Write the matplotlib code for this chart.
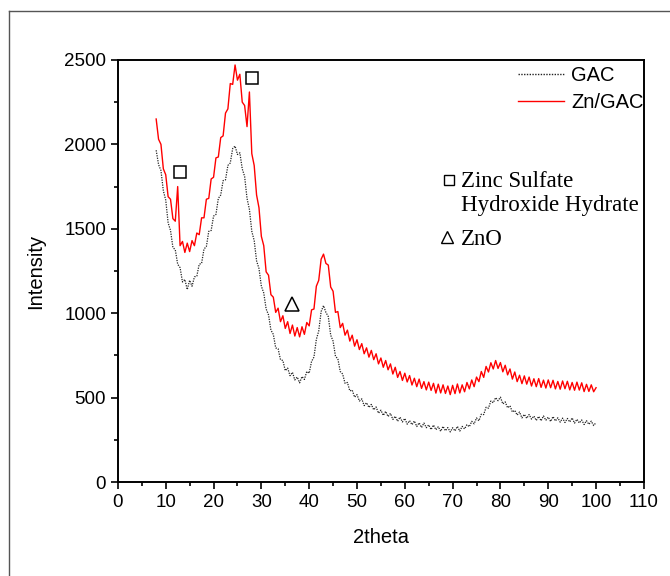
#!/usr/bin/env python3
"""XRD patterns of GAC and Zn/GAC."""

import matplotlib

matplotlib.use("Agg")

import matplotlib.pyplot as plt
import numpy as np
from matplotlib.lines import Line2D

# 2theta sampling grid, 8 to 100 in steps of 0.5
TWO_THETA = np.arange(8.0, 100.01, 0.5)

GAC = [
    1965, 1880, 1845, 1725, 1670, 1535, 1490, 1390, 1375, 1290,
    1270, 1185, 1200, 1140, 1195, 1160, 1215, 1220, 1290, 1295,
    1380, 1395, 1485, 1490, 1575, 1585, 1680, 1700, 1785, 1790,
    1875, 1890, 1975, 1990, 1940, 1950, 1855, 1810, 1680, 1615,
    1485, 1430, 1310, 1265, 1160, 1120, 1025, 990, 900, 875,
    795, 790, 725, 720, 660, 675, 630, 650, 605, 622,
    588, 625, 608, 655, 645, 715, 740, 845, 895, 1010,
    1045, 1005, 980, 870, 835, 745, 730, 655, 640, 585,
    590, 540, 545, 503, 518, 480, 493, 453, 470, 442,
    460, 428, 445, 408, 426, 395, 419, 388, 407, 371,
    390, 360, 385, 356, 377, 343, 364, 340, 362, 329,
    351, 323, 350, 322, 339, 311, 338, 310, 328, 301,
    330, 304, 323, 297, 322, 303, 330, 302, 330, 315,
    340, 328, 360, 345, 380, 363, 402, 400, 443, 438,
    480, 470, 500, 482, 503, 463, 475, 440, 452, 415,
    425, 397, 415, 380, 401, 378, 400, 373, 391, 365,
    389, 363, 392, 366, 385, 359, 388, 362, 381, 355,
    379, 353, 377, 356, 380, 349, 372, 350, 368, 341,
    364, 342, 361, 335, 353,
]

ZN_GAC = [
    2150, 2030, 2000, 1855, 1820, 1690, 1675, 1560, 1545, 1750,
    1400, 1425, 1360, 1415, 1365, 1430, 1400, 1475, 1465, 1565,
    1565, 1675, 1680, 1795, 1805, 1920, 1925, 2040, 2050, 2185,
    2210, 2360, 2355, 2470, 2380, 2415, 2250, 2230, 2105, 2310,
    1945, 1875, 1700, 1625, 1455, 1400, 1245, 1225, 1110, 1095,
    1005, 1030, 950, 985, 910, 950, 880, 930, 865, 915,
    860, 920, 875, 945, 925, 1020, 1025, 1160, 1195, 1320,
    1350, 1295, 1285, 1155, 1130, 1005, 1010, 915, 940, 870,
    900, 835, 870, 805, 843, 785, 820, 760, 795, 740,
    780, 725, 760, 700, 735, 680, 720, 665, 700, 640,
    680, 620, 655, 602, 645, 593, 631, 575, 615, 565,
    610, 555, 595, 546, 592, 543, 585, 527, 580, 528,
    576, 525, 569, 518, 573, 524, 581, 528, 576, 535,
    590, 552, 605, 565, 622, 595, 655, 620, 685, 652,
    707, 670, 720, 673, 708, 653, 692, 635, 670, 610,
    652, 595, 633, 583, 629, 580, 622, 569, 612, 565,
    613, 561, 604, 557, 605, 559, 603, 552, 596, 550,
    599, 553, 597, 546, 590, 544, 592, 545, 588, 536,
    579, 537, 576, 535, 559,
]

# phase markers (2theta, intensity)
SULFATE_X = [12.9, 28.0]
SULFATE_Y = [1835, 2395]
ZNO_X = [36.5]
ZNO_Y = [1055]

X_TICKS = list(range(0, 111, 10))
Y_TICKS = list(range(0, 2501, 500))

SANS = ["Liberation Sans", "DejaVu Sans"]
SERIF = ["Liberation Serif", "DejaVu Serif"]


def main() -> None:
    fig = plt.figure(figsize=(6.7, 5.76), dpi=100)
    ax = fig.add_axes([0.176, 0.163, 0.785, 0.733])

    ax.plot(TWO_THETA, GAC, color="#222222", lw=0.9, ls=(0, (1, 1)), label="GAC")
    ax.plot(TWO_THETA, ZN_GAC, color="#ff0000", lw=1.0, label="Zn/GAC")

    ax.plot(SULFATE_X, SULFATE_Y, ls="none", marker="s", ms=8,
            mfc="none", mec="black", mew=1.1)
    ax.plot(ZNO_X, ZNO_Y, ls="none", marker="^", ms=10,
            mfc="none", mec="black", mew=1.1)

    # phase key
    ax.plot([69.3], [1790], ls="none", marker="s", ms=7, mfc="none",
            mec="black", mew=1.0)
    ax.text(71.8, 1780, "Zinc Sulfate", family=SERIF, fontsize=16.5, va="center")
    ax.text(71.8, 1635, "Hydroxide Hydrate", family=SERIF, fontsize=16.5, va="center")
    ax.plot([68.9], [1450], ls="none", marker="^", ms=9, mfc="none",
            mec="black", mew=1.0)
    ax.text(71.8, 1435, "ZnO", family=SERIF, fontsize=16.5, va="center")

    ax.set_xlim(0, 110)
    ax.set_ylim(0, 2500)
    ax.set_xticks(X_TICKS)
    ax.set_yticks(Y_TICKS)
    ax.set_xticks(np.arange(5, 110, 10), minor=True)
    ax.set_yticks(np.arange(250, 2500, 500), minor=True)
    ax.tick_params(which="major", direction="out", length=5, width=1.2)
    ax.tick_params(which="minor", direction="out", length=3, width=1.2)
    for lab in ax.get_xticklabels() + ax.get_yticklabels():
        lab.set_family(SANS)
        lab.set_fontsize(13.5)
    for sp in ax.spines.values():
        sp.set_linewidth(1.4)

    ax.set_xlabel("2theta", family=SANS, fontsize=14.5, labelpad=12)
    ax.set_ylabel("Intensity", family=SANS, fontsize=14.5, labelpad=14)

    leg = ax.legend(loc="upper left", bbox_to_anchor=(0.734, 1.02), frameon=False,
                    handlelength=2.3, handletextpad=0.35, borderpad=0.2,
                    labelspacing=0.4, prop={"family": SANS, "size": 14.5})
    for h in leg.legend_handles:
        h.set_linewidth(1.0)

    # outer frame (top and left edges only)
    fig.add_artist(Line2D([9 / 670, 1.0], [1 - 11 / 576, 1 - 11 / 576],
                          transform=fig.transFigure, color="#555555", lw=1.0))
    fig.add_artist(Line2D([9 / 670, 9 / 670], [0.0, 1 - 11 / 576],
                          transform=fig.transFigure, color="#555555", lw=1.0))

    fig.savefig("out.png", dpi=100)
    plt.close(fig)


if __name__ == "__main__":
    main()
